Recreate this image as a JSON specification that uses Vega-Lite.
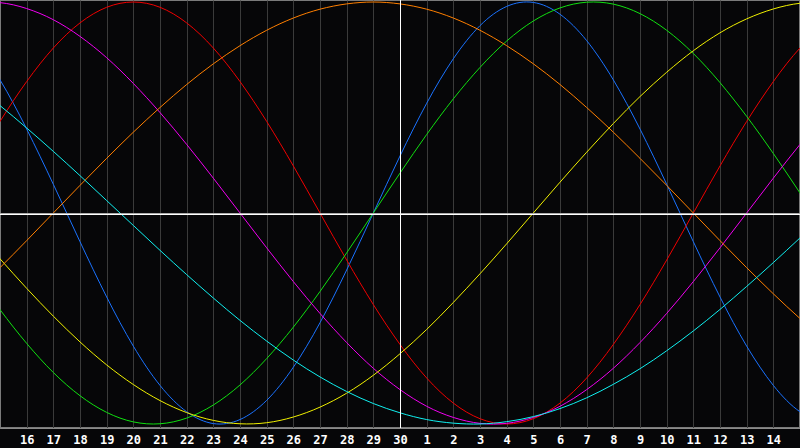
{
  "$schema": "https://vega.github.io/schema/vega-lite/v6.json",
  "width": 800,
  "height": 428,
  "autosize": {"type": "none"},
  "padding": {"left": 0, "top": 0, "right": 0, "bottom": 20},
  "background": "#060608",
  "config": {"view": {"stroke": "#7a7a7a", "strokeWidth": 2, "fill": "#060608"}, "axis": {"labelOverlap": false, "labelSeparation": 0}},
  "data": {"values": [
    {"s":"Physical","k":-1,"v":81.7},{"s":"Physical","k":0,"v":63.1},{"s":"Physical","k":1,"v":39.8},{"s":"Physical","k":2,"v":13.6},{"s":"Physical","k":3,"v":-13.6},{"s":"Physical","k":4,"v":-39.8},{"s":"Physical","k":5,"v":-63.1},{"s":"Physical","k":6,"v":-81.7},{"s":"Physical","k":7,"v":-94.2},{"s":"Physical","k":8,"v":-99.8},{"s":"Physical","k":9,"v":-97.9},{"s":"Physical","k":10,"v":-88.8},{"s":"Physical","k":11,"v":-73.1},{"s":"Physical","k":12,"v":-52.0},{"s":"Physical","k":13,"v":-27.0},{"s":"Physical","k":14,"v":0},{"s":"Physical","k":15,"v":27.0},{"s":"Physical","k":16,"v":52.0},{"s":"Physical","k":17,"v":73.1},{"s":"Physical","k":18,"v":88.8},{"s":"Physical","k":19,"v":97.9},{"s":"Physical","k":20,"v":99.8},{"s":"Physical","k":21,"v":94.2},{"s":"Physical","k":22,"v":81.7},{"s":"Physical","k":23,"v":63.1},{"s":"Physical","k":24,"v":39.8},{"s":"Physical","k":25,"v":13.6},{"s":"Physical","k":26,"v":-13.6},{"s":"Physical","k":27,"v":-39.8},{"s":"Physical","k":28,"v":-63.1},{"s":"Physical","k":29,"v":-81.7},{"s":"Physical","k":30,"v":-94.2},{"s":"Physical","k":31,"v":-99.8},
    {"s":"Emotional","k":-1,"v":22.3},{"s":"Emotional","k":0,"v":43.4},{"s":"Emotional","k":1,"v":62.3},{"s":"Emotional","k":2,"v":78.2},{"s":"Emotional","k":3,"v":90.1},{"s":"Emotional","k":4,"v":97.5},{"s":"Emotional","k":5,"v":100},{"s":"Emotional","k":6,"v":97.5},{"s":"Emotional","k":7,"v":90.1},{"s":"Emotional","k":8,"v":78.2},{"s":"Emotional","k":9,"v":62.3},{"s":"Emotional","k":10,"v":43.4},{"s":"Emotional","k":11,"v":22.3},{"s":"Emotional","k":12,"v":0},{"s":"Emotional","k":13,"v":-22.3},{"s":"Emotional","k":14,"v":-43.4},{"s":"Emotional","k":15,"v":-62.3},{"s":"Emotional","k":16,"v":-78.2},{"s":"Emotional","k":17,"v":-90.1},{"s":"Emotional","k":18,"v":-97.5},{"s":"Emotional","k":19,"v":-100},{"s":"Emotional","k":20,"v":-97.5},{"s":"Emotional","k":21,"v":-90.1},{"s":"Emotional","k":22,"v":-78.2},{"s":"Emotional","k":23,"v":-62.3},{"s":"Emotional","k":24,"v":-43.4},{"s":"Emotional","k":25,"v":-22.3},{"s":"Emotional","k":26,"v":0},{"s":"Emotional","k":27,"v":22.3},{"s":"Emotional","k":28,"v":43.4},{"s":"Emotional","k":29,"v":62.3},{"s":"Emotional","k":30,"v":78.2},{"s":"Emotional","k":31,"v":90.1},
    {"s":"Intellectual","k":-1,"v":-28.2},{"s":"Intellectual","k":0,"v":-45.8},{"s":"Intellectual","k":1,"v":-61.8},{"s":"Intellectual","k":2,"v":-75.6},{"s":"Intellectual","k":3,"v":-86.6},{"s":"Intellectual","k":4,"v":-94.5},{"s":"Intellectual","k":5,"v":-99.0},{"s":"Intellectual","k":6,"v":-99.9},{"s":"Intellectual","k":7,"v":-97.2},{"s":"Intellectual","k":8,"v":-91.0},{"s":"Intellectual","k":9,"v":-81.5},{"s":"Intellectual","k":10,"v":-69.0},{"s":"Intellectual","k":11,"v":-54.1},{"s":"Intellectual","k":12,"v":-37.2},{"s":"Intellectual","k":13,"v":-18.9},{"s":"Intellectual","k":14,"v":0},{"s":"Intellectual","k":15,"v":18.9},{"s":"Intellectual","k":16,"v":37.2},{"s":"Intellectual","k":17,"v":54.1},{"s":"Intellectual","k":18,"v":69.0},{"s":"Intellectual","k":19,"v":81.5},{"s":"Intellectual","k":20,"v":91.0},{"s":"Intellectual","k":21,"v":97.2},{"s":"Intellectual","k":22,"v":99.9},{"s":"Intellectual","k":23,"v":99.0},{"s":"Intellectual","k":24,"v":94.5},{"s":"Intellectual","k":25,"v":86.6},{"s":"Intellectual","k":26,"v":75.6},{"s":"Intellectual","k":27,"v":61.8},{"s":"Intellectual","k":28,"v":45.8},{"s":"Intellectual","k":29,"v":28.2},{"s":"Intellectual","k":30,"v":9.5},{"s":"Intellectual","k":31,"v":-9.5},
    {"s":"Intuitive","k":-1,"v":99.7},{"s":"Intuitive","k":0,"v":99.7},{"s":"Intuitive","k":1,"v":96.9},{"s":"Intuitive","k":2,"v":91.6},{"s":"Intuitive","k":3,"v":83.7},{"s":"Intuitive","k":4,"v":73.6},{"s":"Intuitive","k":5,"v":61.4},{"s":"Intuitive","k":6,"v":47.6},{"s":"Intuitive","k":7,"v":32.5},{"s":"Intuitive","k":8,"v":16.5},{"s":"Intuitive","k":9,"v":0},{"s":"Intuitive","k":10,"v":-16.5},{"s":"Intuitive","k":11,"v":-32.5},{"s":"Intuitive","k":12,"v":-47.6},{"s":"Intuitive","k":13,"v":-61.4},{"s":"Intuitive","k":14,"v":-73.6},{"s":"Intuitive","k":15,"v":-83.7},{"s":"Intuitive","k":16,"v":-91.6},{"s":"Intuitive","k":17,"v":-96.9},{"s":"Intuitive","k":18,"v":-99.7},{"s":"Intuitive","k":19,"v":-99.7},{"s":"Intuitive","k":20,"v":-96.9},{"s":"Intuitive","k":21,"v":-91.6},{"s":"Intuitive","k":22,"v":-83.7},{"s":"Intuitive","k":23,"v":-73.6},{"s":"Intuitive","k":24,"v":-61.4},{"s":"Intuitive","k":25,"v":-47.6},{"s":"Intuitive","k":26,"v":-32.5},{"s":"Intuitive","k":27,"v":-16.5},{"s":"Intuitive","k":28,"v":0},{"s":"Intuitive","k":29,"v":16.5},{"s":"Intuitive","k":30,"v":32.5},{"s":"Intuitive","k":31,"v":47.6},
    {"s":"Aesthetic","k":-1,"v":-7.3},{"s":"Aesthetic","k":0,"v":-21.7},{"s":"Aesthetic","k":1,"v":-35.7},{"s":"Aesthetic","k":2,"v":-48.9},{"s":"Aesthetic","k":3,"v":-61.1},{"s":"Aesthetic","k":4,"v":-72.0},{"s":"Aesthetic","k":5,"v":-81.3},{"s":"Aesthetic","k":6,"v":-88.9},{"s":"Aesthetic","k":7,"v":-94.6},{"s":"Aesthetic","k":8,"v":-98.3},{"s":"Aesthetic","k":9,"v":-99.9},{"s":"Aesthetic","k":10,"v":-99.4},{"s":"Aesthetic","k":11,"v":-96.7},{"s":"Aesthetic","k":12,"v":-92.0},{"s":"Aesthetic","k":13,"v":-85.4},{"s":"Aesthetic","k":14,"v":-76.9},{"s":"Aesthetic","k":15,"v":-66.7},{"s":"Aesthetic","k":16,"v":-55.2},{"s":"Aesthetic","k":17,"v":-42.4},{"s":"Aesthetic","k":18,"v":-28.8},{"s":"Aesthetic","k":19,"v":-14.6},{"s":"Aesthetic","k":20,"v":0},{"s":"Aesthetic","k":21,"v":14.6},{"s":"Aesthetic","k":22,"v":28.8},{"s":"Aesthetic","k":23,"v":42.4},{"s":"Aesthetic","k":24,"v":55.2},{"s":"Aesthetic","k":25,"v":66.7},{"s":"Aesthetic","k":26,"v":76.9},{"s":"Aesthetic","k":27,"v":85.4},{"s":"Aesthetic","k":28,"v":92.0},{"s":"Aesthetic","k":29,"v":96.7},{"s":"Aesthetic","k":30,"v":99.4},{"s":"Aesthetic","k":31,"v":99.9},
    {"s":"Awareness","k":-1,"v":-38.3},{"s":"Awareness","k":0,"v":-25.9},{"s":"Awareness","k":1,"v":-13.1},{"s":"Awareness","k":2,"v":0},{"s":"Awareness","k":3,"v":13.1},{"s":"Awareness","k":4,"v":25.9},{"s":"Awareness","k":5,"v":38.3},{"s":"Awareness","k":6,"v":50.0},{"s":"Awareness","k":7,"v":60.9},{"s":"Awareness","k":8,"v":70.7},{"s":"Awareness","k":9,"v":79.3},{"s":"Awareness","k":10,"v":86.6},{"s":"Awareness","k":11,"v":92.4},{"s":"Awareness","k":12,"v":96.6},{"s":"Awareness","k":13,"v":99.1},{"s":"Awareness","k":14,"v":100},{"s":"Awareness","k":15,"v":99.1},{"s":"Awareness","k":16,"v":96.6},{"s":"Awareness","k":17,"v":92.4},{"s":"Awareness","k":18,"v":86.6},{"s":"Awareness","k":19,"v":79.3},{"s":"Awareness","k":20,"v":70.7},{"s":"Awareness","k":21,"v":60.9},{"s":"Awareness","k":22,"v":50.0},{"s":"Awareness","k":23,"v":38.3},{"s":"Awareness","k":24,"v":25.9},{"s":"Awareness","k":25,"v":13.1},{"s":"Awareness","k":26,"v":0},{"s":"Awareness","k":27,"v":-13.1},{"s":"Awareness","k":28,"v":-25.9},{"s":"Awareness","k":29,"v":-38.3},{"s":"Awareness","k":30,"v":-50.0},{"s":"Awareness","k":31,"v":-60.9},
    {"s":"Spiritual","k":-1,"v":60.7},{"s":"Spiritual","k":0,"v":50.9},{"s":"Spiritual","k":1,"v":40.3},{"s":"Spiritual","k":2,"v":29.2},{"s":"Spiritual","k":3,"v":17.7},{"s":"Spiritual","k":4,"v":5.9},{"s":"Spiritual","k":5,"v":-5.9},{"s":"Spiritual","k":6,"v":-17.7},{"s":"Spiritual","k":7,"v":-29.2},{"s":"Spiritual","k":8,"v":-40.3},{"s":"Spiritual","k":9,"v":-50.9},{"s":"Spiritual","k":10,"v":-60.7},{"s":"Spiritual","k":11,"v":-69.7},{"s":"Spiritual","k":12,"v":-77.7},{"s":"Spiritual","k":13,"v":-84.6},{"s":"Spiritual","k":14,"v":-90.3},{"s":"Spiritual","k":15,"v":-94.7},{"s":"Spiritual","k":16,"v":-97.9},{"s":"Spiritual","k":17,"v":-99.6},{"s":"Spiritual","k":18,"v":-100.0},{"s":"Spiritual","k":19,"v":-98.9},{"s":"Spiritual","k":20,"v":-96.5},{"s":"Spiritual","k":21,"v":-92.7},{"s":"Spiritual","k":22,"v":-87.6},{"s":"Spiritual","k":23,"v":-81.2},{"s":"Spiritual","k":24,"v":-73.8},{"s":"Spiritual","k":25,"v":-65.3},{"s":"Spiritual","k":26,"v":-55.9},{"s":"Spiritual","k":27,"v":-45.7},{"s":"Spiritual","k":28,"v":-34.8},{"s":"Spiritual","k":29,"v":-23.5},{"s":"Spiritual","k":30,"v":-11.8},{"s":"Spiritual","k":31,"v":0}
  ]},
  "layer": [
    {
      "mark": {"type": "line", "interpolate": "natural", "strokeWidth": 1, "clip": true},
      "encoding": {
        "x": {"field": "k", "type": "quantitative",
          "scale": {"domain": [0, 30], "nice": false, "zero": false},
          "axis": {"values": [1,2,3,4,5,6,7,8,9,10,11,12,13,14,15,16,17,18,19,20,21,22,23,24,25,26,27,28,29],
            "tickCount": 30,
            "labelExpr": "datum.value <= 15 ? datum.value + 15 : datum.value - 15",
            "grid": true, "gridColor": "#3a3a3a", "gridWidth": 1,
            "ticks": false, "tickSize": 0,
            "domain": true, "domainColor": "#8a8a8a",
            "labelColor": "#ffffff", "labelFont": "DejaVu Sans Mono", "labelFontWeight": "bold", "labelFontSize": 12,
            "labelBaseline": "alphabetic", "labelPadding": 15, "labelFlush": false, "labelOverlap": false, "labelSeparation": 0, "labelBound": false,
            "title": null}},
        "y": {"field": "v", "type": "quantitative",
          "scale": {"domain": [-101.9, 100.95], "nice": false, "zero": false},
          "axis": null},
        "color": {"field": "s", "type": "nominal",
          "scale": {"domain": ["Physical","Emotional","Intellectual","Intuitive","Aesthetic","Awareness","Spiritual"],
                    "range": ["#1a72ff","#f00000","#10e010","#f000f0","#f0f000","#ff7f00","#10f0f0"]},
          "legend": null}
      }
    },
    {"mark": {"type": "rule", "color": "#ffffff", "strokeWidth": 1, "xOffset": 0.5}, "encoding": {"x": {"datum": 15}}},
    {"mark": {"type": "rule", "color": "#ffffff", "strokeWidth": 1, "yOffset": 1.5}, "encoding": {"y": {"datum": 0}}}
  ]
}
